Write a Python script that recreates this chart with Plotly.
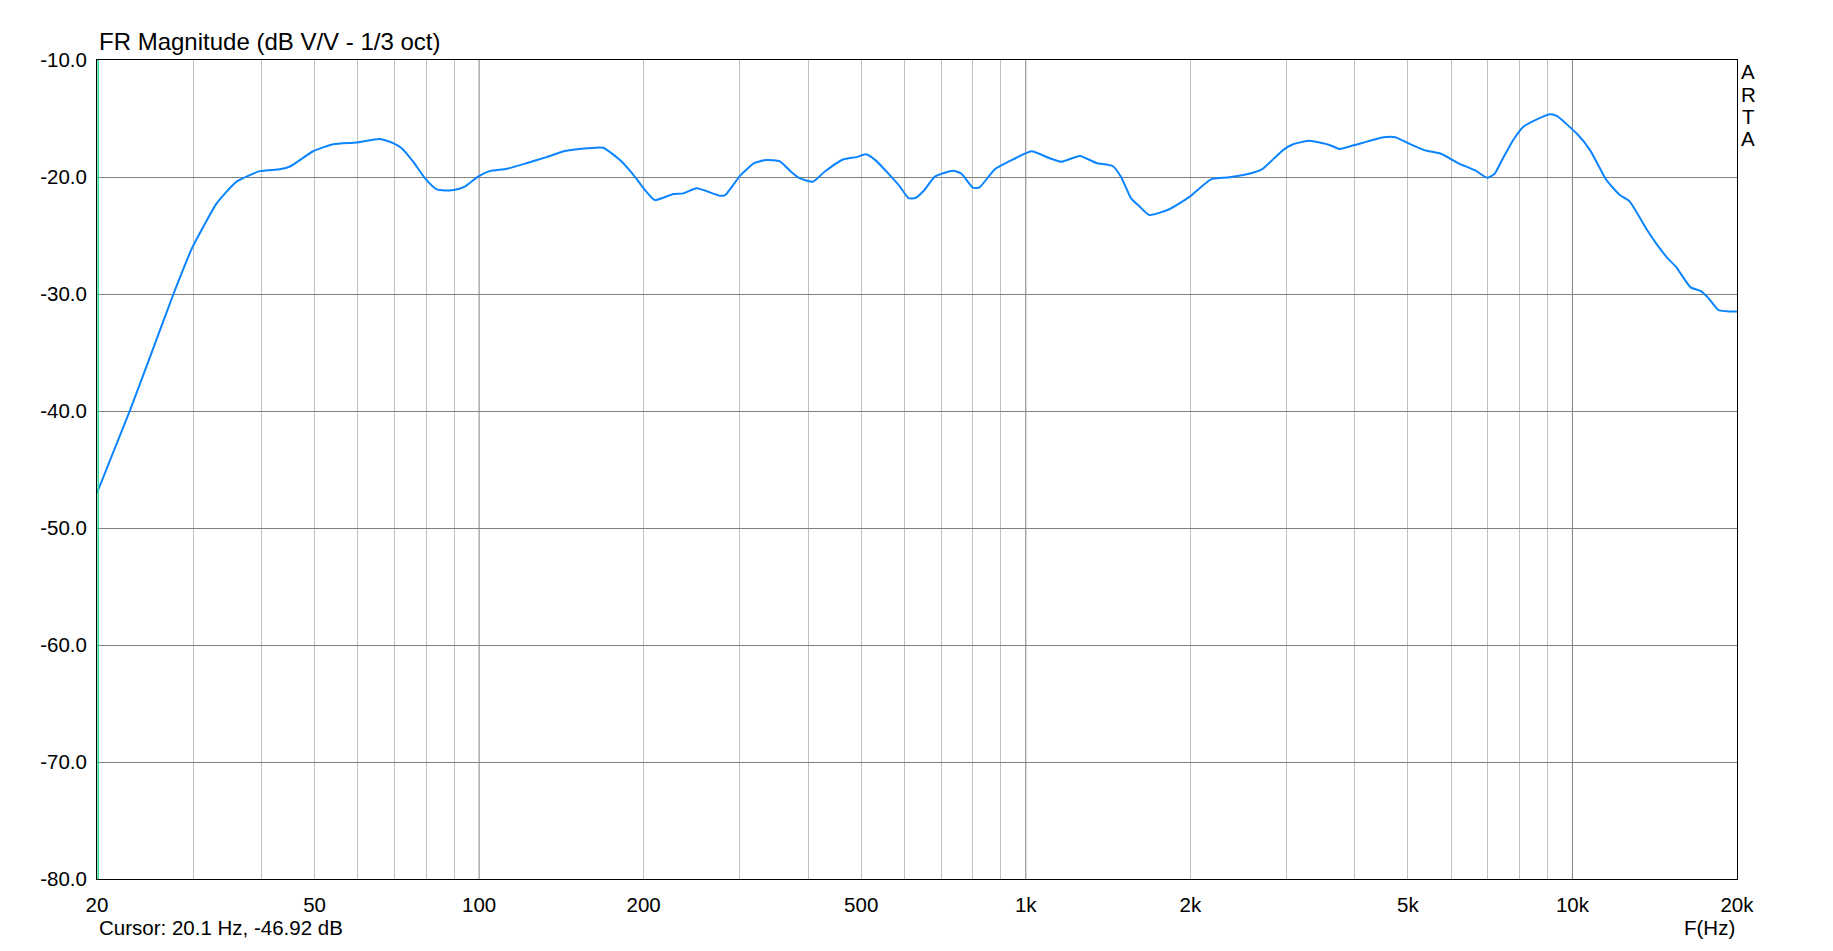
import plotly.graph_objects as go

# ---- data ----
freq_hz = [20, 23.0, 25.0, 27.6, 29.9, 31.3, 33.1, 36.0, 39.7, 43.2, 45.1, 49.7, 54.1, 59.7,
           65.8, 69.6, 72, 75.8, 79.6, 83.6, 88, 92, 94.3, 99.6, 104.5, 112.4, 122.5, 132.9,
           142.8, 157.4, 168.6, 181, 191.4, 201, 209.6, 226.6, 236.4, 250, 276, 282, 300,
           319, 335, 355, 372, 385.6, 408, 428.5, 463, 490, 510, 532, 563, 588, 610, 628,
           650, 682, 736, 762, 800, 822, 878, 948, 1024, 1106, 1162, 1256, 1346, 1442,
           1493, 1557, 1613, 1682, 1830, 1992, 2182, 2358, 2620, 2714, 2955, 3083, 3304,
           3593, 3749, 3995, 4512, 4744, 4987, 5358, 5760, 6190, 6652, 6976, 7200, 7464,
           7792, 8133, 8609, 9114, 9376, 10212, 10770, 11538, 12208, 12732, 13642, 14226,
           14936, 15461, 16448, 17150, 17748, 18500, 20000]
mag_db = [-47.0, -39.9, -35.4, -30.0, -26.0, -24.25, -22.25, -20.4, -19.5, -19.34, -19.1,
          -17.8, -17.2, -17.05, -16.75, -17.1, -17.5, -18.7, -20.1, -21.05, -21.15, -21.0,
          -20.8, -19.97, -19.5, -19.3, -18.8, -18.3, -17.8, -17.55, -17.5, -18.55, -19.8,
          -21.1, -21.97, -21.45, -21.4, -20.97, -21.6, -21.55, -19.9, -18.8, -18.55, -18.66,
          -19.55, -20.1, -20.4, -19.55, -18.5, -18.3, -18.06, -18.6, -19.8, -20.8, -21.8,
          -21.8, -21.2, -19.97, -19.46, -19.7, -20.9, -20.9, -19.34, -18.5, -17.8, -18.4,
          -18.7, -18.2, -18.8, -19.06, -19.97, -21.8, -22.5, -23.25, -22.76, -21.7, -20.2,
          -20.03, -19.6, -19.3, -17.7, -17.2, -16.9, -17.26, -17.6, -17.27, -16.6, -16.6,
          -17.07, -17.7, -18.03, -18.83, -19.46, -20.06, -19.74, -18.4, -16.84, -15.7,
          -15.07, -14.64, -14.8, -16.35, -17.7, -20.26, -21.54, -22.1, -24.4, -25.67,
          -26.95, -27.66, -29.43, -29.74, -30.37, -31.37, -31.5]

x_tick_vals = [20, 50, 100, 200, 500, 1000, 2000, 5000, 10000, 20000]
x_tick_text = ["20", "50", "100", "200", "500", "1k", "2k", "5k", "10k", "20k"]
y_tick_vals = [-80, -70, -60, -50, -40, -30, -20, -10]
y_tick_text = ["-80.0", "-70.0", "-60.0", "-50.0", "-40.0", "-30.0", "-20.0", "-10.0"]
minor_grid = [30, 40, 50, 60, 70, 80, 90, 200, 300, 400, 500, 600, 700, 800, 900,
              2000, 3000, 4000, 5000, 6000, 7000, 8000, 9000]
major_grid = [100, 1000, 10000]
cursor_hz = 20.1
title_text = "FR Magnitude (dB V/V - 1/3 oct)"
cursor_text = "Cursor: 20.1 Hz, -46.92 dB"
x_title = "F(Hz)"
brand = ["A", "R", "T", "A"]

FONT = "Liberation Sans, Arial, sans-serif"

fig = go.Figure()
fig.add_trace(go.Scatter(x=freq_hz, y=mag_db, mode="lines",
                         line=dict(color="#0a84ff", width=2, shape="spline", smoothing=0.5),
                         hoverinfo="x+y", showlegend=False))

shapes = []
for g in major_grid:
    shapes.append(dict(type="line", xref="x", yref="paper", x0=g, x1=g, y0=0, y1=1,
                       line=dict(color="#808080", width=1), layer="below"))
shapes.append(dict(type="line", xref="x", yref="paper", x0=cursor_hz, x1=cursor_hz, y0=0, y1=1,
                   line=dict(color="#22dd88", width=1.5), layer="above"))

annotations = [
    dict(text=title_text, xref="paper", yref="paper", x=0, y=1, xanchor="left",
         yanchor="middle", yshift=19, showarrow=False, font=dict(size=24, color="black", family=FONT)),
    dict(text=cursor_text, xref="paper", yref="paper", x=0, y=0, xanchor="left",
         yanchor="bottom", yshift=-62, showarrow=False, font=dict(size=20.5, color="black", family=FONT)),
    dict(text=x_title, xref="paper", yref="paper", x=1, y=0, xanchor="right",
         yanchor="bottom", yshift=-62, showarrow=False, font=dict(size=20.5, color="black", family=FONT)),
]
brand_centers = [71.5, 94.5, 116, 138]
for ch, yc in zip(brand, brand_centers):
    annotations.append(dict(text=ch, xref="paper", yref="paper", x=1, y=1, xanchor="center",
                            yanchor="middle", xshift=11, yshift=-(yc - 60), showarrow=False,
                            font=dict(size=20.5, color="black", family=FONT)))

# page body has an 8px margin: shift plot area accordingly
fig.update_layout(
    width=1817, height=935,
    margin=dict(l=89, r=88, t=52, b=64, pad=0),
    paper_bgcolor="white", plot_bgcolor="white",
    font=dict(family=FONT, size=20.5, color="black"),
    shapes=shapes, annotations=annotations,
    xaxis=dict(type="log", range=[1.30103, 4.30103], tickvals=x_tick_vals, ticktext=x_tick_text,
               showgrid=False, zeroline=False, showline=True, linecolor="black", linewidth=1,
               mirror=True, ticks="", ticklabelstandoff=7,
               tickfont=dict(size=20.5, color="black", family=FONT),
               minor=dict(tickvals=minor_grid, showgrid=True, gridcolor="#c0c0c0",
                          gridwidth=1, ticks="")),
    yaxis=dict(range=[-80, -10], tickvals=y_tick_vals, ticktext=y_tick_text,
               showgrid=True, gridcolor="#808080", gridwidth=1, zeroline=False,
               showline=True, linecolor="black", linewidth=1, mirror=True, ticks="",
               ticklabelstandoff=5, tickfont=dict(size=20.5, color="black", family=FONT)),
)

fig.write_html("out.html")
